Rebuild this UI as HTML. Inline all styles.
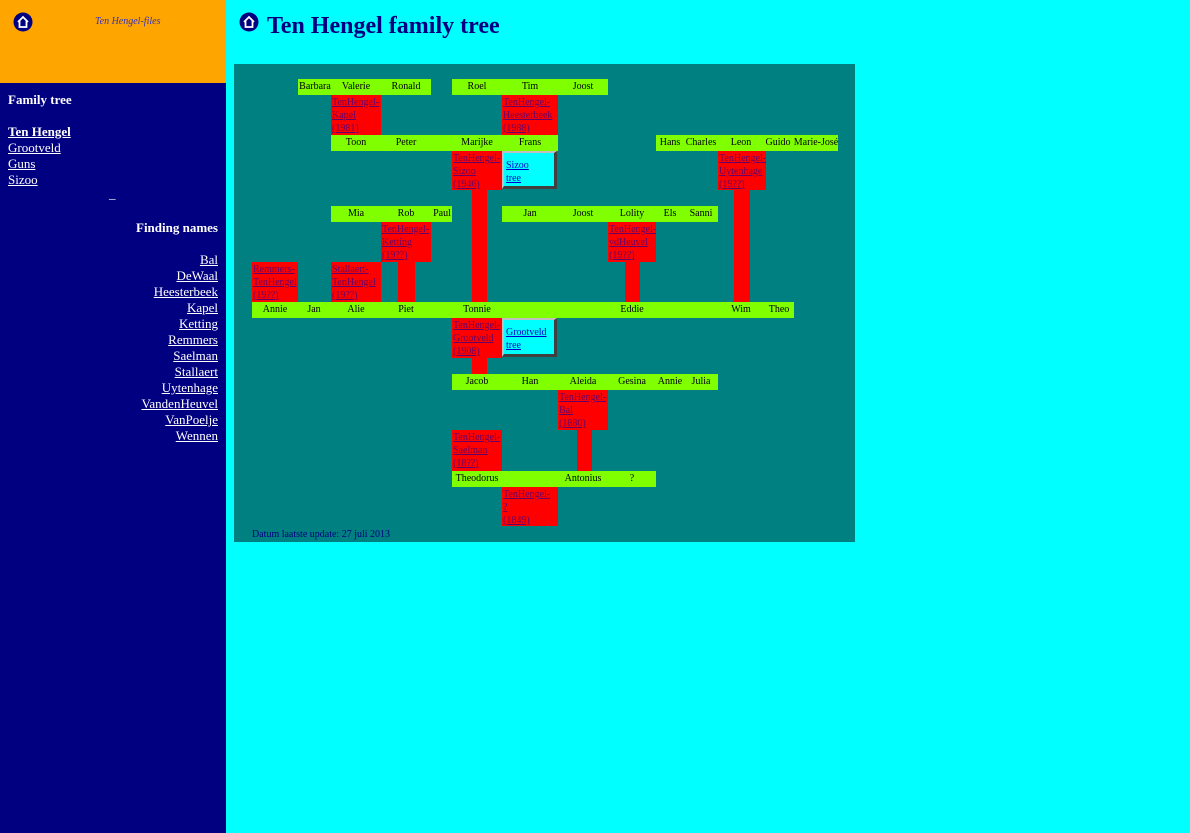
<!DOCTYPE html>
<html><head><meta charset="utf-8"><style>
*{margin:0;padding:0;box-sizing:border-box}
body{width:1190px;height:833px;background:#00ffff;position:relative;overflow:hidden;font-family:"Liberation Serif",serif}
.a{position:absolute}
.g{position:absolute;background:#7fff00;height:16px}
.r{position:absolute;background:#ff0000}
.t{position:absolute;font-size:10px;line-height:16px;color:#000;transform:translateX(-50%);white-space:nowrap}
.rb{position:absolute;background:#ff0000;font-size:10px;line-height:13px;padding-left:1px;padding-top:1px}
.rb a{color:#660066;text-decoration:underline}
.cy{position:absolute;background:#00ffff;border-top:2px solid #c0c0c0;border-left:2px solid #c0c0c0;border-right:3px solid #404040;border-bottom:3px solid #404040;font-size:10px;line-height:13px;padding:6px 0 0 2px}
.cy a{color:#0000cc}
.sb a{color:#fff}
.sl{position:absolute;font-size:13px;line-height:16px;color:#fff}
</style></head><body>
<div class="a" style="left:0;top:0;width:226px;height:83px;background:#ffa500"></div>
<div class="a" style="left:0;top:83px;width:226px;height:750px;background:#000080"></div>
<svg class="a" style="left:13px;top:12px" width="20" height="20" viewBox="0 0 20 20"><circle cx="10" cy="10" r="9.5" fill="#000080"/><path d="M5 10 L10 5 L15 10 M6.5 9 V15 H13.5 V9" fill="none" stroke="#fff" stroke-width="1.8"/></svg>
<div class="a" style="left:95px;top:16px;font-size:10px;font-style:italic;color:#3030c0">Ten Hengel-files</div>
<div class="sl" style="left:8px;top:92px;font-weight:bold">Family tree</div>
<div class="sl sb" style="left:8px;top:124px;font-weight:bold"><a href="#">Ten Hengel</a></div>
<div class="sl sb" style="left:8px;top:140px"><a href="#">Grootveld</a></div>
<div class="sl sb" style="left:8px;top:156px"><a href="#">Guns</a></div>
<div class="sl sb" style="left:8px;top:172px"><a href="#">Sizoo</a></div>
<div class="sl" style="left:109px;top:186px">_</div>
<div class="sl sb" style="right:972px;top:220px;font-weight:bold;text-align:right">Finding names</div>
<div class="sl sb" style="right:972px;top:252px;text-align:right"><a href="#">Bal</a><br><a href="#">DeWaal</a><br><a href="#">Heesterbeek</a><br><a href="#">Kapel</a><br><a href="#">Ketting</a><br><a href="#">Remmers</a><br><a href="#">Saelman</a><br><a href="#">Stallaert</a><br><a href="#">Uytenhage</a><br><a href="#">VandenHeuvel</a><br><a href="#">VanPoelje</a><br><a href="#">Wennen</a></div>

<svg class="a" style="left:239px;top:12px" width="20" height="20" viewBox="0 0 20 20"><circle cx="10" cy="10" r="9.5" fill="#000080"/><path d="M5 10 L10 5 L15 10 M6.5 9 V15 H13.5 V9" fill="none" stroke="#fff" stroke-width="1.8"/></svg>
<div class="a" style="left:267px;top:11px;font-size:24px;font-weight:bold;color:#000080;line-height:30px">Ten Hengel family tree</div>

<div class="a" style="left:234px;top:64px;width:621px;height:478px;background:#008080"></div>

<div class="r" style="left:472px;top:190px;width:15px;height:112px"></div>
<div class="r" style="left:734px;top:190px;width:16px;height:112px"></div>
<div class="r" style="left:398px;top:262px;width:17px;height:40px"></div>
<div class="r" style="left:625px;top:262px;width:15px;height:40px"></div>
<div class="r" style="left:472px;top:358px;width:15px;height:16px"></div>
<div class="r" style="left:577px;top:430px;width:15px;height:41px"></div>

<div class="g" style="left:298px;top:79px;width:133px"></div>
<div class="g" style="left:452px;top:79px;width:156px"></div>
<div class="t" style="left:315px;top:79px">Barbara</div><div class="t" style="left:356px;top:79px">Valerie</div><div class="t" style="left:406px;top:79px">Ronald</div>
<div class="t" style="left:477px;top:79px">Roel</div><div class="t" style="left:530px;top:79px">Tim</div><div class="t" style="left:583px;top:79px">Joost</div>
<div class="rb" style="left:331px;top:95px;width:50px;height:40px"><a href="#">TenHengel-<br>Kapel<br>(1981)</a></div>
<div class="rb" style="left:502px;top:95px;width:56px;height:40px"><a href="#">TenHengel-<br>Heesterbeek<br>(1988)</a></div>

<div class="g" style="left:331px;top:135px;width:227px"></div>
<div class="g" style="left:656px;top:135px;width:182px"></div>
<div class="t" style="left:356px;top:135px">Toon</div><div class="t" style="left:406px;top:135px">Peter</div><div class="t" style="left:477px;top:135px">Marijke</div><div class="t" style="left:530px;top:135px">Frans</div>
<div class="t" style="left:670px;top:135px">Hans</div><div class="t" style="left:701px;top:135px">Charles</div><div class="t" style="left:741px;top:135px">Leon</div><div class="t" style="left:778px;top:135px">Guido</div><div class="t" style="left:816px;top:135px">Marie-José</div>
<div class="rb" style="left:452px;top:151px;width:50px;height:39px"><a href="#">TenHengel-<br>Sizoo<br>(1946)</a></div>
<div class="cy" style="left:502px;top:151px;width:55px;height:38px"><a href="#">Sizoo<br>tree</a></div>
<div class="rb" style="left:718px;top:151px;width:48px;height:39px"><a href="#">TenHengel-<br>Uytenhage<br>(19??)</a></div>

<div class="g" style="left:331px;top:206px;width:121px"></div>
<div class="g" style="left:502px;top:206px;width:216px"></div>
<div class="t" style="left:356px;top:206px">Mia</div><div class="t" style="left:406px;top:206px">Rob</div><div class="t" style="left:442px;top:206px">Paul</div>
<div class="t" style="left:530px;top:206px">Jan</div><div class="t" style="left:583px;top:206px">Joost</div><div class="t" style="left:632px;top:206px">Lolity</div><div class="t" style="left:670px;top:206px">Els</div><div class="t" style="left:701px;top:206px">Sanni</div>
<div class="rb" style="left:381px;top:222px;width:50px;height:40px"><a href="#">TenHengel-<br>Ketting<br>(19??)</a></div>
<div class="rb" style="left:608px;top:222px;width:48px;height:40px"><a href="#">TenHengel-<br>vdHeuvel<br>(19??)</a></div>
<div class="rb" style="left:252px;top:262px;width:46px;height:40px"><a href="#">Remmers-<br>TenHengel<br>(19??)</a></div>
<div class="rb" style="left:331px;top:262px;width:50px;height:40px"><a href="#">Stallaert-<br>TenHengel<br>(19??)</a></div>

<div class="g" style="left:252px;top:302px;width:542px"></div>
<div class="t" style="left:275px;top:302px">Annie</div><div class="t" style="left:314px;top:302px">Jan</div><div class="t" style="left:356px;top:302px">Alie</div><div class="t" style="left:406px;top:302px">Piet</div><div class="t" style="left:477px;top:302px">Tonnie</div><div class="t" style="left:632px;top:302px">Eddie</div><div class="t" style="left:741px;top:302px">Wim</div><div class="t" style="left:779px;top:302px">Theo</div>
<div class="rb" style="left:452px;top:318px;width:50px;height:40px"><a href="#">TenHengel-<br>Grootveld<br>(1908)</a></div>
<div class="cy" style="left:502px;top:318px;width:55px;height:39px"><a href="#">Grootveld<br>tree</a></div>

<div class="g" style="left:452px;top:374px;width:266px"></div>
<div class="t" style="left:477px;top:374px">Jacob</div><div class="t" style="left:530px;top:374px">Han</div><div class="t" style="left:583px;top:374px">Aleida</div><div class="t" style="left:632px;top:374px">Gesina</div><div class="t" style="left:670px;top:374px">Annie</div><div class="t" style="left:701px;top:374px">Julia</div>
<div class="rb" style="left:558px;top:390px;width:50px;height:40px"><a href="#">TenHengel-<br>Bal<br>(1880)</a></div>
<div class="rb" style="left:452px;top:430px;width:50px;height:41px"><a href="#">TenHengel-<br>Saelman<br>(18??)</a></div>

<div class="g" style="left:452px;top:471px;width:204px"></div>
<div class="t" style="left:477px;top:471px">Theodorus</div><div class="t" style="left:583px;top:471px">Antonius</div><div class="t" style="left:632px;top:471px">?</div>
<div class="rb" style="left:502px;top:487px;width:56px;height:39px"><a href="#">TenHengel-<br>?<br>(1849)</a></div>
<div class="a" style="left:252px;top:528px;font-size:10px;line-height:13px;color:#000080">Datum laatste update: 27 juli 2013</div>
</body></html>
